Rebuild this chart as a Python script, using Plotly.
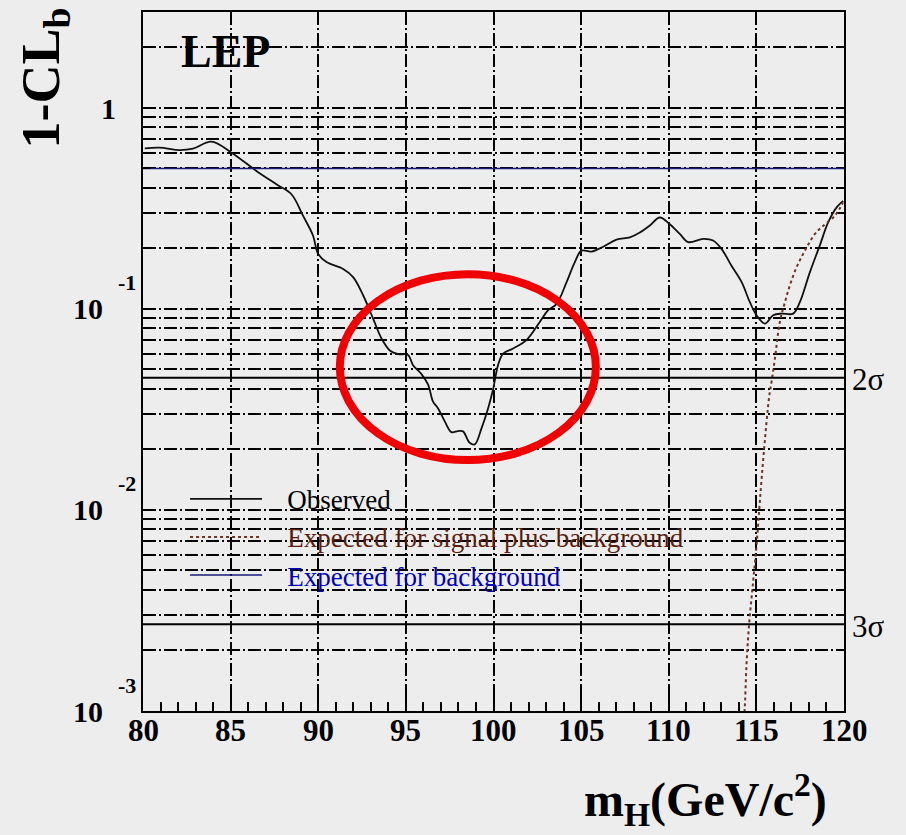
import numpy as np
import plotly.graph_objects as go

# ---- data ----
obs_mass = [80.10, 80.95, 82.09, 82.85, 83.90, 85.05, 86.47, 87.61, 88.47, 89.13,
            89.70, 89.99, 90.47, 91.42, 91.99, 92.56, 93.13, 93.61, 94.10, 94.57,
            95.13, 95.41, 95.89, 96.27, 96.55, 96.84, 97.22, 97.60, 97.98, 98.26,
            98.64, 98.93, 99.31, 99.69, 99.98, 100.27, 100.55, 101.12, 101.88, 102.64,
            103.12, 103.60, 104.17, 104.64, 105.02, 105.59, 106.26, 107.02, 107.78, 108.35,
            108.92, 109.49, 110.06, 110.63, 111.11, 111.96, 112.53, 113.01, 113.58, 114.16,
            114.63, 115.01, 115.49, 115.96, 116.44, 117.10, 117.48, 118.05, 118.62, 119.10,
            119.58, 119.95]
obs_clb = [0.629, 0.634, 0.617, 0.627, 0.679, 0.599, 0.486, 0.417, 0.372, 0.291,
           0.232, 0.188, 0.171, 0.158, 0.144, 0.117, 0.0895, 0.0713, 0.0620, 0.0596,
           0.0590, 0.0525, 0.0474, 0.0420, 0.0346, 0.0320, 0.0276, 0.0244, 0.0247, 0.0246,
           0.0216, 0.0212, 0.0254, 0.0320, 0.0400, 0.0530, 0.0600, 0.0636, 0.0700, 0.0862,
           0.0986, 0.106, 0.136, 0.171, 0.195, 0.193, 0.204, 0.221, 0.227, 0.240,
           0.260, 0.285, 0.264, 0.236, 0.215, 0.223, 0.219, 0.199, 0.164, 0.136,
           0.108, 0.093, 0.0846, 0.093, 0.0948, 0.0948, 0.108, 0.152, 0.207, 0.270,
           0.320, 0.345]

sb_mass = [114.20, 114.34, 114.44, 114.59, 114.82, 115.03, 115.20, 115.43, 115.73, 115.87,
           116.06, 116.34, 116.63, 116.91, 117.29, 117.77, 118.34, 118.72, 119.48, 119.95]
sb_clb = [0.00070, 0.00105, 0.00173, 0.00273, 0.00446, 0.00703, 0.0111, 0.0196, 0.0366, 0.0436,
          0.0568, 0.0863, 0.108, 0.131, 0.161, 0.195, 0.236, 0.255, 0.291, 0.339]

bkg_mass = [80, 120]
bkg_clb = [0.5, 0.5]

sigma_levels = [0.0455, 0.0027]
sigma_labels = ["2σ", "3σ"]

x_ticks = [80, 85, 90, 95, 100, 105, 110, 115, 120]
x_tick_text = ["80", "85", "90", "95", "100", "105", "110", "115", "120"]
y_decades = [0.001, 0.01, 0.1, 1]
y_tick_base = ["10", "10", "10", "1"]
y_tick_exp = ["-3", "-2", "-1", ""]

highlight_mass = [91.23, 105.84]
highlight_clb = [0.0177, 0.149]

NB = "\u00a0\u00a0\u00a0"
legend_names = [NB + "Observed",
                NB + "<span style='color:#5a1e10'>Expected for signal plus background</span>",
                NB + "<span style='color:#0000b4'>Expected for background</span>"]

SERIF = "Liberation Serif, Times New Roman, serif"
BG = "#ededed"
YLOG = [-3.0, float(np.log10(3.0))]


def ypaper(v):
    return (np.log10(v) - YLOG[0]) / (YLOG[1] - YLOG[0])


fig = go.Figure()
fig.add_trace(go.Scatter(x=obs_mass, y=obs_clb, mode="lines", name=legend_names[0],
                         line=dict(color="#111111", width=1.8), line_shape="spline"))
fig.add_trace(go.Scatter(x=sb_mass, y=sb_clb, mode="lines", name=legend_names[1],
                         line=dict(color="#6b3526", width=2, dash="dot"), line_shape="spline"))
fig.add_trace(go.Scatter(x=bkg_mass, y=bkg_clb, mode="lines", name=legend_names[2],
                         line=dict(color="#1a1a7a", width=1.5)))
for lev in sigma_levels:
    fig.add_trace(go.Scatter(x=[x_ticks[0], x_ticks[-1]], y=[lev, lev], mode="lines",
                             line=dict(color="black", width=2), showlegend=False,
                             hoverinfo="skip"))

# gridline positions (1..9 x each decade)
grid_y = []
for d in y_decades:
    for m in range(1, 10):
        v = d * m
        if v <= 3.0:
            grid_y.append(v)

dash = "13px,3px,2px,3px"
fig.update_xaxes(range=[80, 120], tickvals=x_ticks, ticks="inside", ticklen=16, tickwidth=2,
                 tickcolor="black", showgrid=True, gridcolor="black", gridwidth=1.8, griddash=dash,
                 showline=True, linecolor="black", linewidth=2, mirror=True, zeroline=False,
                 showticklabels=False,
                 minor=dict(dtick=1, ticks="inside", ticklen=9, tickwidth=2, tickcolor="black",
                            showgrid=False))
fig.update_yaxes(type="log", range=YLOG, tickvals=grid_y, showticklabels=False,
                 ticks="inside", ticklen=8, tickwidth=1.5, tickcolor="black",
                 showgrid=True, gridcolor="black", gridwidth=1.8, griddash=dash,
                 showline=True, linecolor="black", linewidth=2, mirror=True, zeroline=False)

ann = []
for v, t in zip(x_ticks, x_tick_text):
    ann.append(dict(xref="x", yref="paper", x=v, y=0, yshift=-19, text="<b>" + t + "</b>",
                    showarrow=False, xanchor="center", yanchor="middle",
                    font=dict(family=SERIF, size=31, color="black")))
for v, b, e in zip(y_decades, y_tick_base, y_tick_exp):
    if e:
        ann.append(dict(xref="paper", yref="paper", x=0, y=ypaper(v), xshift=-55, yshift=0,
                        text="<b>" + b + "</b>", showarrow=False, xanchor="center", yanchor="middle",
                        font=dict(family=SERIF, size=30, color="black")))
        ann.append(dict(xref="paper", yref="paper", x=0, y=ypaper(v), xshift=-16, yshift=26,
                        text="<b>" + e + "</b>", showarrow=False, xanchor="center", yanchor="middle",
                        font=dict(family=SERIF, size=22, color="black")))
    else:
        ann.append(dict(xref="paper", yref="paper", x=0, y=ypaper(v), xshift=-35, yshift=-1,
                        text="<b>" + b + "</b>", showarrow=False, xanchor="center", yanchor="middle",
                        font=dict(family=SERIF, size=30, color="black")))
for lev, lab in zip(sigma_levels, sigma_labels):
    ann.append(dict(xref="paper", yref="paper", x=1, y=ypaper(lev), xshift=6, yshift=-2,
                    text=lab, showarrow=False, xanchor="left", yanchor="middle",
                    font=dict(family=SERIF, size=31, color="black")))
ann.append(dict(xref="paper", yref="paper", x=0.117, y=0.944, text="<b>LEP</b>",
                showarrow=False, xanchor="center", yanchor="middle",
                font=dict(family=SERIF, size=46, color="black")))
ann.append(dict(xref="paper", yref="paper", x=-0.141, y=0.905, text="<b>1-CL<sub>b</sub></b>",
                showarrow=False, xanchor="center", yanchor="middle", textangle=-90,
                font=dict(family=SERIF, size=54, color="black")))
ann.append(dict(xref="paper", yref="paper", x=0.802, y=-0.126,
                text="<b>m<sub>H</sub>(GeV/c<sup>2</sup>)</b>",
                showarrow=False, xanchor="center", yanchor="middle",
                font=dict(family=SERIF, size=48, color="black")))

shapes = [dict(type="circle", xref="x", yref="paper",
               x0=highlight_mass[0], x1=highlight_mass[1],
               y0=ypaper(highlight_clb[0]), y1=ypaper(highlight_clb[1]),
               line=dict(color="#f00000", width=8), layer="above")]

fig.update_layout(width=906, height=835, margin=dict(l=143, r=62, t=10, b=124),
                  paper_bgcolor=BG, plot_bgcolor=BG, annotations=ann, shapes=shapes,
                  legend=dict(x=0.06, y=0.338, xanchor="left", yanchor="top",
                              bgcolor="rgba(0,0,0,0)", itemwidth=72,
                              font=dict(family=SERIF, size=27, color="black"),
                              tracegroupgap=0))

fig.write_html("out.html")
